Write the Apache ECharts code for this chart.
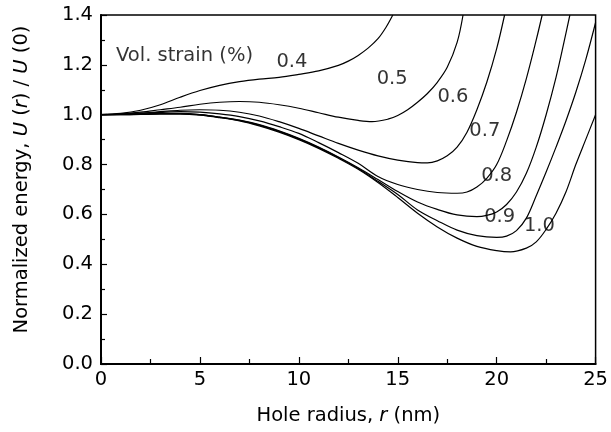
<!DOCTYPE html>
<html>
<head>
<meta charset="utf-8">
<script src="https://cdn.jsdelivr.net/npm/echarts@6/dist/echarts.min.js"></script>
<style>
  html, body { margin: 0; padding: 0; background: #fff; }
  #chart { width: 611px; height: 432px; }
</style>
</head>
<body>
<div id="chart"></div>
<script>
// hole radius (nm) and normalized energy U(r)/U(0), one pair per volumetric strain
var r04 = [0, 1, 2, 3, 4, 5, 6, 7, 8, 9, 10, 11, 12, 12.5, 13, 13.5, 14, 14.4, 14.75];
var u04 = [1.0, 1.005, 1.018, 1.04, 1.07, 1.097, 1.118, 1.133, 1.143, 1.15, 1.162, 1.176, 1.198, 1.215, 1.238, 1.267, 1.305, 1.35, 1.4];

var r05 = [0, 1, 2, 3, 4, 5, 6, 7, 8, 9, 10, 11, 12, 13, 13.7, 14.5, 15, 15.5, 16, 16.5, 17, 17.5, 18, 18.3];
var u05 = [1.0, 1.003, 1.01, 1.02, 1.03, 1.042, 1.05, 1.053, 1.05, 1.04, 1.026, 1.008, 0.99, 0.977, 0.972, 0.982, 0.997, 1.02, 1.05, 1.085, 1.13, 1.19, 1.29, 1.4];

var r06 = [0, 1, 2, 3, 4, 5, 6, 7, 8, 9, 10, 11, 12, 13, 14, 15, 16, 16.5, 17, 17.5, 18, 18.5, 19, 19.5, 20, 20.4];
var u06 = [1.0, 1.002, 1.006, 1.012, 1.018, 1.02, 1.018, 1.01, 0.995, 0.972, 0.945, 0.915, 0.885, 0.858, 0.835, 0.818, 0.808, 0.807, 0.815, 0.835, 0.87, 0.93, 1.02, 1.13, 1.265, 1.4];

var r07 = [0, 1, 2, 3, 4, 5, 6, 7, 8, 9, 10, 11, 12, 13, 14, 15, 16, 17, 18, 18.5, 19, 19.5, 20, 20.5, 21, 21.5, 22, 22.3];
var u07 = [1.0, 1.002, 1.005, 1.009, 1.012, 1.01, 1.003, 0.992, 0.975, 0.952, 0.925, 0.888, 0.848, 0.805, 0.752, 0.72, 0.7, 0.688, 0.685, 0.69, 0.71, 0.745, 0.8, 0.895, 1.01, 1.145, 1.3, 1.4];

var r08 = [0, 1, 2, 3, 4, 5, 6, 7, 8, 9, 10, 11, 12, 13, 14, 15, 16, 17, 18, 19, 19.5, 20, 20.5, 21, 21.5, 22, 22.5, 23, 23.4, 23.7];
var u08 = [1.0, 1.001, 1.003, 1.005, 1.005, 1.0, 0.99, 0.978, 0.96, 0.935, 0.905, 0.87, 0.83, 0.787, 0.74, 0.692, 0.65, 0.62, 0.598, 0.591, 0.596, 0.61, 0.64, 0.69, 0.765, 0.87, 1.0, 1.15, 1.29, 1.4];

var r09 = [0, 1, 2, 3, 4, 5, 6, 7, 8, 9, 10, 11, 12, 13, 14, 15, 16, 17, 18, 19, 20, 20.5, 21, 21.5, 22, 22.5, 23, 23.5, 24, 24.5, 25];
var u09 = [1.0, 1.0, 1.002, 1.004, 1.004, 1.0, 0.99, 0.977, 0.958, 0.933, 0.903, 0.868, 0.828, 0.784, 0.733, 0.68, 0.618, 0.575, 0.537, 0.515, 0.508, 0.513, 0.535, 0.585, 0.675, 0.77, 0.87, 0.975, 1.09, 1.22, 1.37];

var r10 = [0, 1, 2, 3, 4, 5, 6, 7, 8, 9, 10, 11, 12, 13, 14, 15, 16, 17, 18, 19, 20, 20.7, 21.5, 22, 22.5, 23, 23.5, 24, 24.5, 25];
var u10 = [1.0, 1.0, 1.001, 1.002, 1.002, 0.998, 0.988, 0.975, 0.955, 0.93, 0.9, 0.865, 0.825, 0.781, 0.728, 0.668, 0.605, 0.55, 0.505, 0.472, 0.455, 0.45, 0.465, 0.49, 0.54, 0.605, 0.69, 0.8, 0.9, 1.0];

// curve labels, placed in data coordinates
var noteText = ['Vol. strain (%)', '0.4', '0.5', '0.6', '0.7', '0.8', '0.9', '1.0'];
var noteR = [4.22, 9.65, 14.72, 17.79, 19.4, 20.0, 20.15, 22.16];
var noteU = [1.235, 1.211, 1.143, 1.071, 0.935, 0.754, 0.59, 0.554];

var FONT = '"DejaVu Sans", Verdana, sans-serif';
var INK = '#000';

function pairs(xs, ys) {
  var out = [];
  for (var i = 0; i < xs.length; i++) out.push([xs[i], ys[i]]);
  return out;
}

function curve(name, xs, ys) {
  return {
    name: name,
    type: 'line',
    data: pairs(xs, ys),
    smooth: 0.35,
    symbol: 'none',
    clip: true,
    silent: true,
    lineStyle: { color: INK, width: 1.2 },
    animation: false
  };
}

var notes = [];
for (var i = 0; i < noteText.length; i++) notes.push([noteR[i], noteU[i], noteText[i]]);

var chart = echarts.init(document.getElementById('chart'), null, { renderer: 'canvas' });

chart.setOption({
  animation: false,
  backgroundColor: '#fff',
  textStyle: { fontFamily: FONT },
  grid: {
    left: 101, top: 15, width: 497, height: 349,
    show: true, borderColor: INK, borderWidth: 1.5, backgroundColor: 'transparent'
  },
  xAxis: {
    type: 'value', min: 0, max: 25, interval: 5,
    name: 'Hole radius, {i|r} (nm)',
    nameLocation: 'middle', nameGap: 42,
    nameTextStyle: {
      fontSize: 19.5, color: INK, fontFamily: FONT,
      rich: { i: { fontStyle: 'italic', fontSize: 19.5, color: INK, fontFamily: FONT } }
    },
    axisLine: { show: true, lineStyle: { color: INK, width: 2 } },
    axisTick: { show: true, inside: true, length: 7, lineStyle: { color: INK, width: 1.2 } },
    minorTick: { show: true, splitNumber: 2, length: 5, lineStyle: { color: INK, width: 1.2 } },
    axisLabel: { fontSize: 19.5, color: INK, margin: 6, fontFamily: FONT },
    splitLine: { show: false }
  },
  yAxis: {
    type: 'value', min: 0, max: 1.4, interval: 0.2,
    name: 'Normalized energy, {i|U} ({i|r}) / {i|U} (0)',
    nameLocation: 'middle', nameGap: 69,
    nameTextStyle: {
      fontSize: 19.5, color: INK, fontFamily: FONT,
      padding: [0, 0, 0, 20],
      rich: { i: { fontStyle: 'italic', fontSize: 19.5, color: INK, fontFamily: FONT } }
    },
    axisLine: { show: true, lineStyle: { color: INK, width: 2 } },
    axisTick: { show: true, inside: true, length: 6, lineStyle: { color: INK, width: 1.2 } },
    minorTick: { show: true, splitNumber: 2, length: 4, lineStyle: { color: INK, width: 1.2 } },
    axisLabel: {
      fontSize: 19.5, color: INK, margin: 8, fontFamily: FONT,
      formatter: function (v) { return v.toFixed(1); }
    },
    splitLine: { show: false }
  },
  series: [
    curve('0.4', r04, u04),
    curve('0.5', r05, u05),
    curve('0.6', r06, u06),
    curve('0.7', r07, u07),
    curve('0.8', r08, u08),
    curve('0.9', r09, u09),
    curve('1.0', r10, u10),
    {
      type: 'scatter',
      data: notes,
      symbolSize: 0,
      silent: true,
      label: {
        show: true, position: 'inside',
        formatter: function (p) { return p.value[2]; },
        fontSize: 19.5, color: INK, fontFamily: FONT
      }
    }
  ]
});
</script>
</body>
</html>
